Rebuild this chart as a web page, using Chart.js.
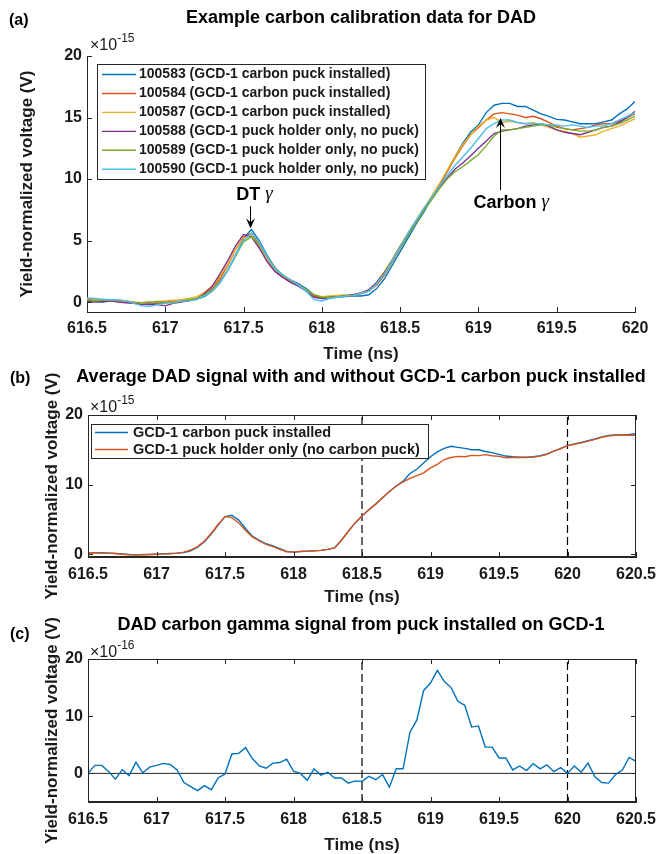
<!DOCTYPE html>
<html><head><meta charset="utf-8">
<script src="https://cdn.jsdelivr.net/npm/chart.js@4.4.1/dist/chart.umd.min.js"></script>
<style>
html,body{margin:0;padding:0;background:#fff;overflow:hidden;width:658px;height:854px}
canvas{position:absolute;left:0;top:0}
.t{position:absolute;font-family:"Liberation Sans",Arial,sans-serif;color:#000;white-space:nowrap;z-index:5}
.title{font-weight:bold;font-size:18px;line-height:18px;transform:translate(-50%,-50%)}
.pl{font-weight:bold;font-size:16px;line-height:16px;transform:translate(0,-50%)}
.exp{font-size:16px;line-height:16px;color:#1a1a1a}
.exp span{font-size:12px;position:relative;top:-0.62em}
</style></head><body>
<canvas id="ca" width="658" height="854"></canvas>
<canvas id="cb" width="658" height="854"></canvas>
<canvas id="cc" width="658" height="854"></canvas>

<div class="t pl" style="left:9px;top:19.5px">(a)</div>
<div class="t title" style="left:361px;top:16.5px">Example carbon calibration data for DAD</div>
<div class="t exp" style="left:90px;top:36.5px">×10<span>-15</span></div>

<div class="t pl" style="left:10px;top:378px">(b)</div>
<div class="t title" style="left:361px;top:376px">Average DAD signal with and without GCD-1 carbon puck installed</div>
<div class="t exp" style="left:90px;top:398.5px">×10<span>-15</span></div>

<div class="t pl" style="left:10px;top:634px">(c)</div>
<div class="t title" style="left:361px;top:623.5px">DAD carbon gamma signal from puck installed on GCD-1</div>
<div class="t exp" style="left:90px;top:643.5px">×10<span>-16</span></div>

<script>
// ---------------- DATA ----------------
// Time axis (ns), 0.05 ns sampling
const timeNs = [616.5,616.55,616.6,616.65,616.7,616.75,616.8,616.85,616.9,616.95,
  617,617.05,617.1,617.15,617.2,617.25,617.3,617.35,617.4,617.45,
  617.5,617.55,617.6,617.65,617.7,617.75,617.8,617.85,617.9,617.95,
  618,618.05,618.1,618.15,618.2,618.25,618.3,618.35,618.4,618.45,
  618.5,618.55,618.6,618.65,618.7,618.75,618.8,618.85,618.9,618.95,
  619,619.05,619.1,619.15,619.2,619.25,619.3,619.35,619.4,619.45,
  619.5,619.55,619.6,619.65,619.7,619.75,619.8,619.85,619.9,619.95,
  620,620.05,620.1,620.15,620.2,620.25,620.3,620.35,620.4,620.45,620.5];
const timeA = timeNs.slice(0, 71); // panel (a) spans 616.5 - 620 ns

// Panel (a): individual shots, units of 1e-15 V
const shotLabels = [
  '100583 (GCD-1 carbon puck installed)',
  '100584 (GCD-1 carbon puck installed)',
  '100587 (GCD-1 carbon puck installed)',
  '100588 (GCD-1 puck holder only, no puck)',
  '100589 (GCD-1 puck holder only, no puck)',
  '100590 (GCD-1 puck holder only, no puck)'
];
const shot100583 = [0.1,0.05,0.0,0.1,0.15,0.05,-0.05,-0.15,-0.2,-0.1,
  -0.05,0.0,0.1,0.15,0.25,0.45,0.9,1.6,2.6,3.8,
  5.2,5.9,5.0,3.8,2.8,2.2,1.8,1.5,1.1,0.6,
  0.3,0.35,0.4,0.45,0.5,0.5,0.6,1.1,1.9,3.0,
  4.1,5.2,6.3,7.3,8.4,9.5,10.6,11.8,12.9,13.8,
  14.4,15.4,16.0,16.15,16.15,15.9,15.9,15.6,15.3,15.1,
  14.85,14.8,14.65,14.5,14.5,14.5,14.65,14.8,15.3,15.7,16.3];
const shot100584 = [0.2,0.2,0.15,0.1,0.05,0.0,-0.1,-0.05,0.0,-0.1,
  0.0,0.1,0.05,0.15,0.3,0.6,1.1,1.9,3.0,4.3,
  5.3,5.6,4.7,3.6,2.6,2.1,1.7,1.4,1.0,0.5,
  0.35,0.45,0.5,0.5,0.55,0.7,0.9,1.4,2.2,3.3,
  4.4,5.5,6.5,7.5,8.5,9.5,10.6,11.7,12.7,13.6,
  14.2,14.8,15.3,15.4,15.3,15.2,15.0,15.1,14.9,14.6,
  14.3,14.1,14.0,14.1,14.2,14.4,14.5,14.5,14.7,15.0,15.3];
const shot100587 = [0.3,0.25,0.2,0.15,0.1,0.05,0.0,-0.1,-0.05,0.05,
  0.1,0.15,0.2,0.3,0.45,0.8,1.3,2.1,3.1,4.3,
  5.2,5.4,4.6,3.5,2.6,2.2,1.8,1.4,1.0,0.6,
  0.45,0.5,0.55,0.6,0.6,0.75,1.0,1.6,2.5,3.5,
  4.6,5.6,6.6,7.6,8.6,9.6,10.7,11.8,12.8,13.6,
  14.3,14.8,15.0,14.6,14.7,14.6,14.5,14.6,14.4,14.2,
  14.0,13.9,13.7,13.4,13.5,13.6,13.9,14.1,14.3,14.6,14.9];
const shot100588 = [0.1,0.0,0.05,0.1,0.0,-0.05,-0.1,-0.2,-0.15,-0.2,
  -0.3,-0.1,0.0,0.1,0.25,0.7,1.3,2.3,3.4,4.6,
  5.5,5.3,4.4,3.3,2.5,2.0,1.6,1.3,0.9,0.4,
  0.3,0.4,0.45,0.5,0.6,0.75,1.0,1.6,2.4,3.4,
  4.5,5.5,6.5,7.5,8.4,9.3,10.1,10.8,11.3,11.9,
  12.5,13.1,13.7,13.9,14.0,14.1,14.3,14.4,14.5,14.3,
  14.0,13.8,13.7,13.6,13.8,14.0,14.2,14.3,14.6,15.0,15.5];
const shot100589 = [0.2,0.1,0.15,0.2,0.15,0.1,0.0,-0.05,0.0,0.05,
  0.0,-0.1,0.1,0.2,0.3,0.6,1.0,1.7,2.6,3.8,
  4.9,5.3,4.7,3.7,2.8,2.2,1.8,1.4,1.0,0.6,
  0.4,0.4,0.45,0.5,0.55,0.7,0.9,1.5,2.3,3.3,
  4.4,5.4,6.4,7.4,8.3,9.2,10.0,10.6,11.0,11.5,
  12.0,12.7,13.5,14.0,14.0,14.1,14.2,14.3,14.4,14.4,
  14.2,14.1,14.0,13.9,13.9,14.0,14.2,14.3,14.5,14.8,15.1];
const shot100590 = [0.35,0.3,0.25,0.2,0.2,0.1,-0.1,-0.3,-0.35,-0.2,
  -0.1,0.0,0.05,0.1,0.2,0.5,0.9,1.6,2.6,3.9,
  5.0,5.6,4.9,3.7,2.7,2.2,1.8,1.4,0.9,0.2,
  0.1,0.3,0.4,0.5,0.55,0.7,0.9,1.5,2.3,3.4,
  4.5,5.6,6.6,7.6,8.5,9.4,10.3,11.1,11.8,12.5,
  13.3,14.1,14.5,14.8,14.8,14.6,14.5,14.5,14.5,14.4,
  14.4,14.3,14.4,14.3,14.2,14.3,14.3,14.5,14.8,15.1,15.4];

// Panel (b): averages, units of 1e-15 V
const avgLabels = ['GCD-1 carbon puck installed', 'GCD-1 puck holder only (no carbon puck)'];
const avgWithPuck = [0.2,0.2,0.2,0.15,0.1,0.05,-0.05,-0.1,-0.1,-0.05,
  0.0,0.05,0.1,0.15,0.25,0.5,1.0,1.8,2.9,4.2,
  5.4,5.6,4.9,3.7,2.6,2.0,1.5,1.2,0.8,0.4,
  0.3,0.4,0.45,0.5,0.55,0.7,0.9,2.0,3.3,4.5,
  5.5,6.4,7.2,8.1,9.0,9.8,10.5,11.6,12.2,13.1,
  14.0,14.7,15.2,15.5,15.35,15.2,15.0,15.0,14.75,14.6,
  14.35,14.1,14.0,13.95,13.95,14.0,14.15,14.4,14.8,15.2,
  15.6,15.85,16.05,16.3,16.55,16.85,17.05,17.15,17.15,17.2,17.3];
const avgHolderOnly = [0.2,0.2,0.15,0.15,0.1,0.0,-0.1,-0.1,-0.05,-0.05,
  0.0,0.05,0.05,0.15,0.3,0.6,1.1,1.9,3.0,4.3,
  5.4,5.25,4.5,3.4,2.5,1.9,1.4,1.1,0.7,0.35,
  0.3,0.4,0.45,0.5,0.55,0.7,0.9,2.0,3.3,4.5,
  5.5,6.4,7.2,8.1,9.0,9.8,10.4,10.9,11.3,11.7,
  12.4,12.9,13.6,13.9,14.05,14.0,14.2,14.17,14.3,14.15,
  14.05,13.85,13.9,13.9,13.9,13.95,14.1,14.35,14.8,15.15,
  15.6,15.8,16.0,16.25,16.5,16.8,17.0,17.1,17.1,17.1,17.1];

// Panel (c): carbon gamma signal, units of 1e-16 V
const carbonGamma = [0.0,1.4,1.4,0.35,-1.0,0.65,-0.4,1.95,0.1,1.1,
  1.4,1.75,1.55,0.6,-1.6,-2.3,-3.0,-2.15,-2.85,-0.8,
  -0.1,3.4,3.5,4.5,2.6,1.3,0.9,1.8,1.9,2.5,
  0.4,0.0,-1.2,0.8,-0.3,0.2,-0.8,-0.8,-1.7,-1.3,
  -1.4,-0.5,-1.1,-0.2,-2.4,0.8,0.8,7.2,9.3,14.5,
  15.8,18.0,16.1,15.0,12.6,11.9,8.1,8.3,4.6,4.6,
  2.7,2.7,0.6,1.3,0.5,1.7,0.8,1.5,0.3,1.0,
  0.0,1.3,0.2,1.8,-0.6,-1.6,-1.7,-0.2,0.6,2.8,2.1];

// Tick labels / markers
const xTicksA = [616.5,617,617.5,618,618.5,619,619.5,620];
const xTicksBC = [616.5,617,617.5,618,618.5,619,619.5,620,620.5];
const yTicksA = [0,5,10,15,20];
const yTicksB = [0,10,20];
const yTicksC = [0,10,20];
const dashedTimes = [618.5, 620];
const arrowNotes = [
  {text:'DT', x:617.54, yTail:7.8, yHead:6.0, tx:617.57, ty:8.7},
  {text:'Carbon', x:619.14, yTail:9.1, yHead:14.96, tx:619.21, ty:8.05}
];

// ---------------- STYLE ----------------
const W = 658, H = 854;
const AX = '#262626', TXT = '#1a1a1a';
const SANS = '"Liberation Sans", Arial, sans-serif';
const COLORS = ['#0072BD','#D95319','#EDB120','#7E2F8E','#77AC30','#4DBEEE'];

const toXY = (t, v) => t.map((x, i) => ({x, y: v[i]}));

function framePlugin(box) {
  return {id: 'frame', afterDraw(chart) {
    const {ctx, chartArea: a, scales: {x, y}} = chart;
    const L = 5;
    ctx.save();
    ctx.strokeStyle = AX; ctx.lineWidth = 1;
    ctx.beginPath();
    x.ticks.forEach(t => {
      const px = Math.round(x.getPixelForValue(t.value)) + 0.5;
      ctx.moveTo(px, a.bottom); ctx.lineTo(px, a.bottom - L);
      if (box) { ctx.moveTo(px, a.top); ctx.lineTo(px, a.top + L); }
    });
    y.ticks.forEach(t => {
      const py = Math.round(y.getPixelForValue(t.value)) + 0.5;
      ctx.moveTo(a.left, py); ctx.lineTo(a.left + L, py);
      if (box) { ctx.moveTo(a.right, py); ctx.lineTo(a.right - L, py); }
    });
    ctx.stroke();
    if (box) {
      ctx.strokeRect(Math.round(a.left) + 0.5, Math.round(a.top) + 0.5,
        Math.round(a.right - a.left) - 1, Math.round(a.bottom - a.top) - 1);
    }
    ctx.restore();
  }};
}

function legendPlugin(L) {
  return {id: 'boxLegend', afterDraw(chart) {
    const ctx = chart.ctx;
    ctx.save();
    ctx.fillStyle = '#fff'; ctx.fillRect(L.x, L.y, L.w, L.h);
    ctx.strokeStyle = AX; ctx.lineWidth = 1;
    ctx.strokeRect(L.x + 0.5, L.y + 0.5, L.w, L.h);
    ctx.font = L.font; ctx.textBaseline = 'middle'; ctx.textAlign = 'left';
    chart.data.datasets.filter(d => d.inLegend).forEach((d, i) => {
      const yy = L.y + L.first + i * L.step;
      ctx.strokeStyle = d.borderColor; ctx.lineWidth = 1.4;
      ctx.beginPath(); ctx.moveTo(L.lx0, yy); ctx.lineTo(L.lx1, yy); ctx.stroke();
      ctx.fillStyle = TXT; ctx.fillText(d.label, L.tx, yy);
    });
    ctx.restore();
  }};
}

const arrowPlugin = {id: 'arrows', afterDraw(chart) {
  const {ctx, scales: {x, y}} = chart;
  ctx.save();
  arrowNotes.forEach(n => {
    const px = Math.round(x.getPixelForValue(n.x)) + 0.5;
    const y0 = y.getPixelForValue(n.yTail), y1 = y.getPixelForValue(n.yHead);
    const dir = Math.sign(y1 - y0);
    const hl = 10, hw = 4.5;
    ctx.strokeStyle = '#000'; ctx.fillStyle = '#000'; ctx.lineWidth = 1;
    ctx.beginPath(); ctx.moveTo(px, y0); ctx.lineTo(px, y1 - dir * 5); ctx.stroke();
    ctx.beginPath();
    ctx.moveTo(px, y1);
    ctx.lineTo(px - hw, y1 - dir * hl);
    ctx.lineTo(px, y1 - dir * hl * 0.6);
    ctx.lineTo(px + hw, y1 - dir * hl);
    ctx.closePath(); ctx.fill();
    // label
    const cx = x.getPixelForValue(n.tx), cy = y.getPixelForValue(n.ty);
    const fA = 'bold 18px ' + SANS, fB = 'italic 19px "Liberation Serif", "DejaVu Serif", serif';
    ctx.font = fA; const wA = ctx.measureText(n.text + ' ').width;
    ctx.font = fB; const wB = ctx.measureText('γ').width;
    const sx = cx - (wA + wB) / 2;
    ctx.textBaseline = 'middle'; ctx.textAlign = 'left';
    ctx.font = fA; ctx.fillText(n.text + ' ', sx, cy);
    ctx.font = fB; ctx.fillText('γ', sx + wA, cy - 1);
  });
  ctx.restore();
}};

function panel(id, p) {
  return new Chart(document.getElementById(id), {
    type: 'line',
    data: {datasets: p.datasets},
    options: {
      responsive: false, animation: false, devicePixelRatio: 1, events: [],
      layout: {padding: {left: 0, top: p.top, right: W - p.right, bottom: H - p.bottom - p.xAxisH}},
      plugins: {legend: {display: false}, tooltip: {enabled: false}, title: {display: false}},
      elements: {point: {radius: 0}, line: {borderWidth: 1.4, tension: 0}},
      scales: {
        x: {
          type: 'linear', position: 'bottom', min: p.xMin, max: p.xMax,
          grid: {display: false, drawTicks: false},
          border: {display: true, color: AX, width: 1},
          afterBuildTicks: s => { s.ticks = p.xTicks.map(v => ({value: v})); },
          afterFit: s => { s.height = p.xAxisH; s.paddingLeft = 0; s.paddingRight = 0; },
          ticks: {autoSkip: false, maxRotation: 0, minRotation: 0, padding: p.xTickPad, color: TXT,
            font: {family: SANS, size: 16, weight: 'bold'}, callback: v => String(v)},
          title: {display: true, text: 'Time (ns)', color: TXT,
            font: {family: SANS, size: 17, weight: 'bold', lineHeight: 1}, padding: {top: 0, bottom: 0}}
        },
        y: {
          type: 'linear', position: 'left', min: p.yMin, max: p.yMax,
          grid: {display: false, drawTicks: false},
          border: {display: true, color: AX, width: 1},
          afterBuildTicks: s => { s.ticks = p.yTicks.map(v => ({value: v})); },
          afterFit: s => { s.width = p.left; s.paddingTop = 0; s.paddingBottom = 0; },
          ticks: {padding: 5, color: TXT, font: {family: SANS, size: 16, weight: 'bold'}, callback: v => String(v)},
          title: {display: true, text: 'Yield-normalized voltage (V)', color: TXT,
            font: {family: SANS, size: 17, weight: 'bold', lineHeight: 1.2}, padding: {top: p.yTitlePad, bottom: 0}}
        }
      }
    },
    plugins: p.plugins
  });
}

function dashedSets(yMin, yMax) {
  return dashedTimes.map(t => ({
    label: 'marker', data: [{x: t, y: yMin}, {x: t, y: yMax}],
    borderColor: '#000', borderWidth: 1.2, borderDash: [8, 4], inLegend: false, order: 10
  }));
}

// Panel (a)
const shots = [shot100583, shot100584, shot100587, shot100588, shot100589, shot100590];
panel('ca', {
  left: 87, top: 56, right: 635, bottom: 312, xAxisH: 50.5, xTickPad: 7, yTitlePad: 17,
  xMin: 616.5, xMax: 620, yMin: -0.8, yMax: 20, xTicks: xTicksA, yTicks: yTicksA,
  datasets: shots.map((s, i) => ({label: shotLabels[i], data: toXY(timeA, s),
    borderColor: COLORS[i], inLegend: true, order: -i})),
  plugins: [framePlugin(false), arrowPlugin,
    legendPlugin({x: 97, y: 64, w: 328, h: 115, first: 10.5, step: 18.95, lx0: 102, lx1: 136, tx: 139,
      font: 'bold 14px ' + SANS})]
});

// Panel (b)
panel('cb', {
  left: 88, top: 415, right: 636, bottom: 557, xAxisH: 48.5, xTickPad: 8, yTitlePad: 42,
  xMin: 616.5, xMax: 620.5, yMin: -0.4, yMax: 20, xTicks: xTicksBC, yTicks: yTicksB,
  datasets: [
    {label: avgLabels[0], data: toXY(timeNs, avgWithPuck), borderColor: COLORS[0], inLegend: true, order: 0},
    {label: avgLabels[1], data: toXY(timeNs, avgHolderOnly), borderColor: COLORS[1], inLegend: true, order: -1},
    ...dashedSets(-0.4, 20)
  ],
  plugins: [framePlugin(true),
    legendPlugin({x: 91, y: 424, w: 337, h: 34, first: 8.5, step: 17, lx0: 95, lx1: 128, tx: 133,
      font: 'bold 14.5px ' + SANS})]
});

// Panel (c)
panel('cc', {
  left: 88, top: 659, right: 636, bottom: 802, xAxisH: 51.5, xTickPad: 8, yTitlePad: 42,
  xMin: 616.5, xMax: 620.5, yMin: -5, yMax: 20, xTicks: xTicksBC, yTicks: yTicksC,
  datasets: [
    {label: 'Carbon gamma signal', data: toXY(timeNs, carbonGamma), borderColor: COLORS[0], inLegend: false, order: 0},
    {label: 'zero', data: [{x: 616.5, y: 0}, {x: 620.5, y: 0}], borderColor: '#262626', borderWidth: 1, inLegend: false, order: 5},
    ...dashedSets(-5, 20)
  ],
  plugins: [framePlugin(true)]
});
</script>
</body></html>
